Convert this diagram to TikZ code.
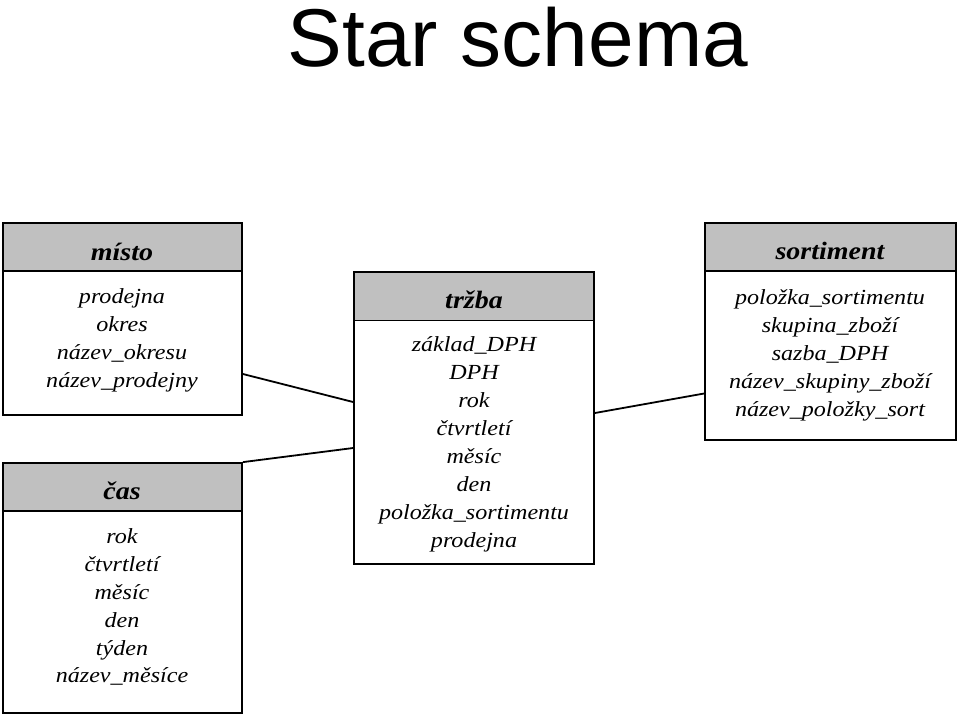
\documentclass[tikz,border=0pt]{standalone}
\usepackage{fontspec}
\setmainfont{Liberation Serif}
\newfontfamily\titlefont{Liberation Sans}
\newfontfamily\bodyfont[FakeStretch=1.12]{Liberation Serif}
\definecolor{hdr}{HTML}{C0C0C0}
\begin{document}
\begin{tikzpicture}[x=1pt,y=-1pt,
  tbox/.style={draw=black,line width=1.8pt,fill=white,inner sep=0pt,minimum width=#1},
  thead/.style={draw=black,line width=1.8pt,fill=hdr,inner sep=0pt,minimum width=#1,minimum height=48pt},
  htext/.style={font=\bodyfont\fontsize{25}{28}\selectfont\bfseries\itshape,text height=17pt,text depth=7pt,inner sep=0pt},
  ltext/.style={font=\bodyfont\fontsize{21.5}{28}\selectfont\itshape,text height=15pt,text depth=5pt,inner sep=0pt},
  conn/.style={line width=1.8pt}]
\useasboundingbox (0,0) rectangle (960,716);
\node[font=\titlefont\fontsize{82}{90}\selectfont] (title) at (518,37) {Star schema};

% misto
\node[tbox=239pt,minimum height=192pt] (misto) at (122.5,319) {};
\node[thead=239pt] (mistoh) at (122.5,247) {};
\node[htext] (mistot) at (122,255) {místo};
\foreach \t [count=\i] in {prodejna,okres,název\_okresu,název\_prodejny}
  \node[ltext] (misto\i) at (122,270+28*\i) {\t};

% cas
\node[tbox=239pt,minimum height=250pt] (cas) at (122.5,588) {};
\node[thead=239pt] (cash) at (122.5,487) {};
\node[htext] (cast) at (122,494) {čas};
\foreach \t [count=\i] in {rok,čtvrtletí,měsíc,den,týden,název\_měsíce}
  \node[ltext] (cas\i) at (122,511+27.8*\i) {\t};

% trzba
\node[tbox=240pt,minimum height=292pt] (trzba) at (474,418) {};
\node[thead=240pt] (trzbah) at (474,296.5) {};
\node[htext] (trzbat) at (474,303) {tržba};
\foreach \t [count=\i] in {základ\_DPH,DPH,rok,čtvrtletí,měsíc,den,položka\_sortimentu,prodejna}
  \node[ltext] (trzba\i) at (474,319+27.9*\i) {\t};

% sortiment
\node[tbox=251pt,minimum height=217pt] (sort) at (830.5,331.5) {};
\node[thead=251pt] (sorth) at (830.5,247) {};
\node[htext] (sortt) at (830,254) {sortiment};
\foreach \t [count=\i] in {položka\_sortimentu,skupina\_zboží,sazba\_DPH,název\_skupiny\_zboží,název\_položky\_sort}
  \node[ltext] (sort\i) at (830,271+28*\i) {\t};

% connectors
\draw[conn] ([yshift=-55pt]misto.east) -- ([yshift=16pt]trzba.west);
\draw[conn] (cas.north east) -- ([yshift=-30pt]trzba.west);
\draw[conn] ([yshift=5pt]trzba.east) -- ([yshift=-62pt]sort.west);
\end{tikzpicture}
\end{document}
